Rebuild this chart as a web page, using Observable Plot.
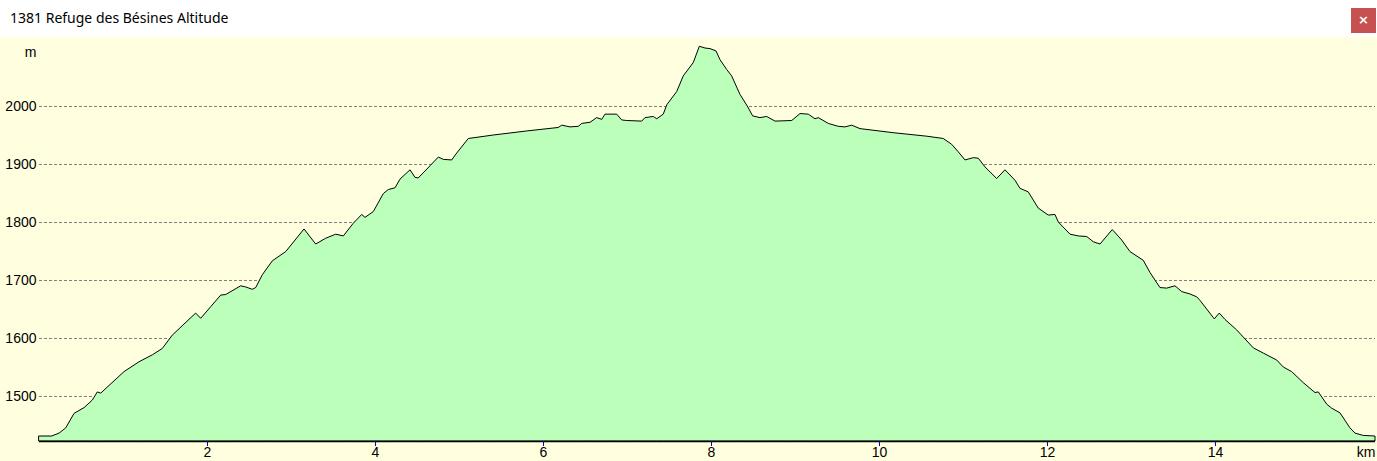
<!DOCTYPE html>
<html>
<head>
<meta charset="utf-8">
<script src="https://cdn.jsdelivr.net/npm/d3@7"></script>
<script src="https://cdn.jsdelivr.net/npm/@observablehq/plot@0.6"></script>
<style>
  html, body { margin: 0; padding: 0; background: #ffffff; }
  #bar { position: relative; width: 1377px; height: 37px; background: #ffffff; font-family: "Noto Sans", sans-serif; }
  #title { position: absolute; left: 10px; top: 8px; font-size: 14px; color: #000; white-space: nowrap; }
  #close { position: absolute; left: 1351px; top: 8px; width: 25px; height: 25px; background: #c75050; color: #fff; font-family: "DejaVu Sans", sans-serif; font-size: 13px; font-weight: bold; line-height: 24px; text-align: center; }
  #chart svg { display: block; background: #ffffe0; }
</style>
</head>
<body>
<div id="bar"><div id="title">1381 Refuge des Bésines Altitude</div><div id="close">×</div></div>
<div id="chart"></div>
<script>
const titleText = "1381 Refuge des Bésines Altitude";
const xUnit = "km";
const yUnit = "m";
const xTicks = [2, 4, 6, 8, 10, 12, 14];
const yTicks = [1500, 1600, 1700, 1800, 1900, 2000];
const yMin = 1422.4;
const yMax = 2119;
const xMax = 15.905;

const distanceKm = [0, 0.151, 0.238, 0.318, 0.417, 0.536, 0.635, 0.694, 0.735, 1.012, 1.190, 1.349, 1.468, 1.587, 1.726, 1.865, 1.925, 2.044, 2.163, 2.223, 2.401, 2.461, 2.539, 2.580, 2.658, 2.777, 2.857, 2.937, 3.155, 3.294, 3.413, 3.532, 3.623, 3.742, 3.842, 3.881, 3.980, 4.099, 4.158, 4.238, 4.298, 4.417, 4.476, 4.515, 4.655, 4.754, 4.813, 4.913, 4.973, 5.111, 5.408, 5.806, 6.182, 6.223, 6.321, 6.420, 6.461, 6.560, 6.639, 6.699, 6.738, 6.877, 6.937, 6.996, 7.175, 7.214, 7.313, 7.354, 7.432, 7.473, 7.592, 7.670, 7.789, 7.861, 7.929, 7.988, 8.060, 8.107, 8.187, 8.246, 8.345, 8.432, 8.496, 8.583, 8.663, 8.762, 8.961, 9.060, 9.158, 9.238, 9.277, 9.396, 9.515, 9.595, 9.675, 9.774, 10.170, 10.568, 10.765, 10.865, 10.944, 11.024, 11.123, 11.182, 11.262, 11.401, 11.500, 11.560, 11.619, 11.679, 11.777, 11.896, 12.015, 12.095, 12.135, 12.274, 12.373, 12.473, 12.551, 12.631, 12.777, 12.889, 12.988, 13.146, 13.226, 13.345, 13.425, 13.524, 13.604, 13.702, 13.782, 13.821, 13.992, 14.051, 14.119, 14.258, 14.456, 14.575, 14.735, 14.813, 14.913, 15.051, 15.190, 15.230, 15.330, 15.389, 15.488, 15.607, 15.667, 15.765, 15.905];

const altitudeM = [1431, 1431, 1436, 1445, 1470, 1480, 1493, 1507, 1505, 1542, 1559, 1571, 1582, 1605, 1624, 1643, 1634, 1654, 1674, 1675, 1690, 1688, 1684, 1687, 1709, 1733, 1741, 1749, 1788, 1762, 1772, 1779, 1776, 1798, 1813, 1808, 1818, 1849, 1856, 1859, 1874, 1890, 1877, 1876, 1897, 1912, 1908, 1907, 1919, 1944, 1950, 1957, 1963, 1967, 1964, 1965, 1970, 1972, 1980, 1977, 1986, 1986, 1976, 1975, 1974, 1980, 1982, 1978, 1986, 2002, 2025, 2052, 2075, 2103, 2100, 2099, 2095, 2080, 2063, 2052, 2020, 2000, 1983, 1980, 1982, 1974, 1975, 1987, 1986, 1978, 1980, 1970, 1965, 1964, 1967, 1961, 1954, 1948, 1944, 1934, 1921, 1907, 1911, 1910, 1895, 1875, 1890, 1881, 1872, 1858, 1852, 1824, 1812, 1813, 1800, 1779, 1776, 1775, 1766, 1762, 1787, 1769, 1749, 1734, 1713, 1687, 1686, 1690, 1680, 1676, 1671, 1665, 1633, 1643, 1632, 1614, 1583, 1574, 1562, 1550, 1542, 1523, 1506, 1507, 1486, 1479, 1471, 1445, 1436, 1432, 1431];

const profile = distanceKm.map((d, i) => ({d, e: altitudeM[i]}));

const fontFamily = "'Liberation Sans', Arial, sans-serif";

const chart = Plot.plot({
  width: 1377,
  height: 424,
  marginLeft: 39,
  marginRight: 2,
  marginTop: 0,
  marginBottom: 20,
  style: {fontFamily, fontSize: "14px", background: "#ffffe0", color: "#000"},
  x: {domain: [0, xMax]},
  y: {domain: [yMin, yMax]},
  marks: [
    Plot.ruleY(yTicks, {stroke: "#808080", strokeWidth: 1, strokeDasharray: "3,2"}),
    Plot.areaY(profile, {x: "d", y1: yMin, y2: "e", fill: "#bbffbb", stroke: "#000", strokeWidth: 1}),
    Plot.ruleY([yMin], {stroke: "#000", strokeWidth: 1.5}),
    Plot.axisY({ticks: yTicks, tickFormat: (d) => String(d), tickSize: 0, tickPadding: 3, fontSize: 14, fill: "#000", label: null}),
    Plot.axisX({ticks: xTicks, tickFormat: (d) => String(d), tickSize: 5, tickPadding: 1, stroke: "#0000cc", fill: "#000", fontSize: 14, label: null}),
    Plot.text([xUnit], {frameAnchor: "bottom-right", textAnchor: "end", lineAnchor: "middle", dy: 11, fontSize: 14, fill: "#000"}),
    Plot.text([yUnit], {frameAnchor: "top-left", textAnchor: "end", lineAnchor: "middle", dx: -3, dy: 15, fontSize: 14, fill: "#000"})
  ]
});
document.getElementById("chart").appendChild(chart);
</script>
</body>
</html>
